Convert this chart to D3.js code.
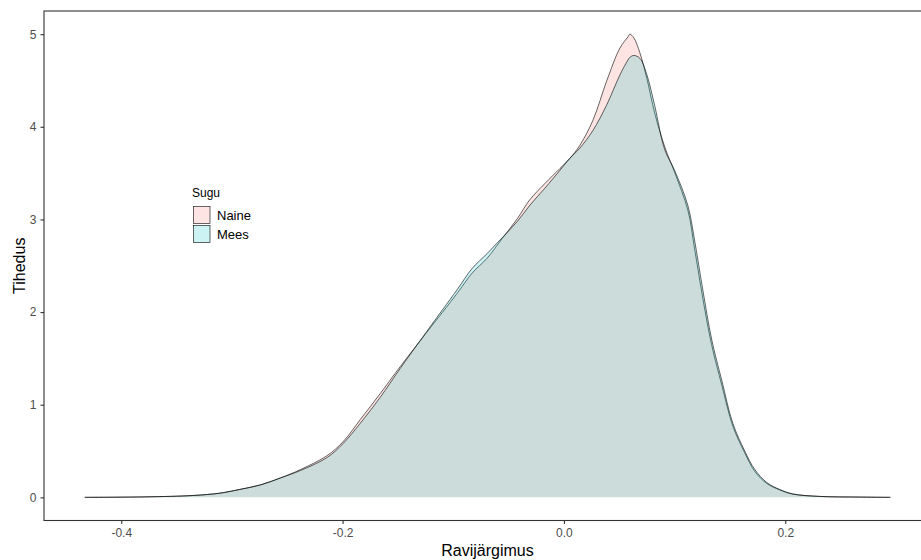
<!DOCTYPE html>
<html>
<head>
  <meta charset="utf-8">
  <script src="https://d3js.org/d3.v7.min.js"></script>
  <style>
    body { margin: 0; background: #fff; }
    text { font-family: "Liberation Sans", Arial, sans-serif; }
  </style>
</head>
<body>
  <svg id="chart" width="921" height="560"></svg>
  <script>
    // density estimates
    const xs = [-0.433, -0.378, -0.335, -0.311, -0.293, -0.274, -0.256, -0.238, -0.214, -0.1996,
      -0.184, -0.166, -0.148, -0.124, -0.0966, -0.083, -0.0695, -0.056, -0.042, -0.031,
      -0.017, -0.0036, 0.0054, 0.0144, 0.0262, 0.0388, 0.0506, 0.0578, 0.0596, 0.0632, 0.0686,
      0.075, 0.082, 0.0912, 0.100, 0.112, 0.118, 0.1255, 0.1336, 0.1427, 0.1526,
      0.1634, 0.1725, 0.1833, 0.195, 0.2068, 0.231, 0.267, 0.295];
    const naine = [0, 0.005, 0.02, 0.045, 0.085, 0.135, 0.21, 0.30, 0.45, 0.60,
      0.84, 1.12, 1.41, 1.78, 2.20, 2.42, 2.58, 2.79, 3.01, 3.21,
      3.39, 3.55, 3.66, 3.80, 4.07, 4.50, 4.85, 4.97, 5.00, 4.96, 4.80,
      4.52, 4.15, 3.78, 3.51, 3.10, 2.69, 2.15, 1.64, 1.21, 0.77,
      0.48, 0.28, 0.15, 0.08, 0.035, 0.01, 0.003, 0];
    const mees = [0, 0.005, 0.02, 0.045, 0.085, 0.135, 0.21, 0.29, 0.43, 0.58,
      0.80, 1.08, 1.39, 1.79, 2.24, 2.47, 2.63, 2.80, 2.98, 3.15,
      3.34, 3.53, 3.66, 3.77, 3.96, 4.24, 4.56, 4.72, 4.75, 4.77, 4.74,
      4.56, 4.23, 3.75, 3.53, 3.15, 2.78, 2.24, 1.70, 1.26, 0.80,
      0.50, 0.30, 0.16, 0.085, 0.037, 0.01, 0.003, 0];
    const groups = ["Naine", "Mees"];
    const fills = ["rgba(248,118,109,0.2)", "rgba(0,191,196,0.2)"];
    const xTicks = [-0.4, -0.2, 0.0, 0.2];
    const yTicks = [0, 1, 2, 3, 4, 5];

    const svg = d3.select("#chart");
    const pLeft = 44, pTop = 11, pBottom = 520.5, pRight = 931;

    const x = d3.scaleLinear().domain([-0.4698, 0.3317]).range([pLeft, pRight]);
    const y = d3.scaleLinear().domain([-0.25, 5.25]).range([pBottom, pTop]);

    const series = [naine, mees];
    const curve = d3.curveCatmullRom.alpha(0.5);
    const area = d3.area()
      .x(d => x(d[0])).y0(y(0)).y1(d => y(d[1]))
      .curve(curve);
    const line = d3.line()
      .x(d => x(d[0])).y(d => y(d[1]))
      .curve(curve);

    series.forEach(function (vals, i) {
      const pts = xs.map((v, j) => [v, vals[j]]);
      svg.append("path").attr("d", area(pts)).attr("fill", fills[i]);
      svg.append("path").attr("d", line(pts))
        .attr("fill", "none").attr("stroke", "#000").attr("stroke-width", 0.6);
    });

    // panel border
    svg.append("rect")
      .attr("x", pLeft).attr("y", pTop)
      .attr("width", pRight - pLeft).attr("height", pBottom - pTop)
      .attr("fill", "none").attr("stroke", "#333").attr("stroke-width", 1.1);

    const fmtX = d => d3.format(".1f")(d).replace("\u2212", "-");
    const xAxis = svg.append("g")
      .attr("transform", "translate(0," + pBottom + ")")
      .call(d3.axisBottom(x).tickValues(xTicks).tickFormat(fmtX).tickSizeOuter(0).tickSize(3.5).tickPadding(4));
    const yAxis = svg.append("g")
      .attr("transform", "translate(" + pLeft + ",0)")
      .call(d3.axisLeft(y).tickValues(yTicks).tickFormat(d3.format("d")).tickSizeOuter(0).tickSize(3.5).tickPadding(4));
    [xAxis, yAxis].forEach(function (g) {
      g.select(".domain").remove();
      g.selectAll(".tick line").attr("stroke", "#333").attr("stroke-width", 1.1);
      g.selectAll(".tick text").attr("fill", "#4d4d4d").style("font-size", "12px")
        .style("font-family", "'Liberation Sans', Arial, sans-serif");
    });

    svg.append("text")
      .attr("x", (pLeft + pRight) / 2).attr("y", 556)
      .attr("text-anchor", "middle").style("font-size", "16px").text("Ravijärgimus");
    svg.append("text")
      .attr("transform", "translate(25," + (pTop + pBottom) / 2 + ") rotate(-90)")
      .attr("text-anchor", "middle").style("font-size", "16px").text("Tihedus");

    // legend
    const legend = svg.append("g").attr("transform", "translate(193,0)");
    legend.append("text").attr("x", -1).attr("y", 197).style("font-size", "12px").text("Sugu");
    const keyFills = ["#fee4e2", "#ccf2f3"];
    groups.forEach(function (g, i) {
      const yy = 206 + i * 19;
      legend.append("rect").attr("x", 0.5).attr("y", yy + 0.5).attr("width", 16.5).attr("height", 17)
        .attr("fill", keyFills[i]).attr("stroke", "#000").attr("stroke-width", 0.6);
      legend.append("text").attr("x", 24).attr("y", yy + 14).style("font-size", "13px").text(g);
    });
  </script>
</body>
</html>
